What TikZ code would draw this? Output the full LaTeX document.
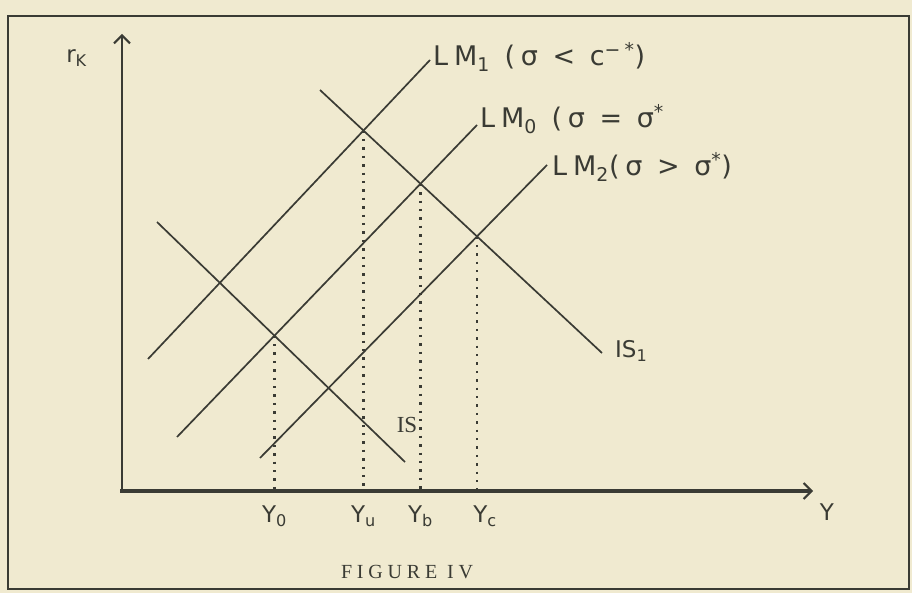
\documentclass[tikz,border=0pt]{standalone}
\usepackage{fontspec}
\usepackage{xcolor}
\usetikzlibrary{arrows.meta,positioning,intersections}
\newfontfamily\handfont{DejaVu Sans}
\newfontfamily\handwide{DejaVu Sans}[LetterSpace=22]
\newfontfamily\typefont{Liberation Serif}
\newfontfamily\capfont{Liberation Serif}[LetterSpace=24]
\definecolor{paper}{HTML}{F0EAD0}
\definecolor{ink}{HTML}{3A3B34}
\tikzset{%
  % lines
  mline/.style={draw=ink, line width=1.7pt},
  axisline/.style={draw=ink, -{Straight Barb[length=8pt, width=16pt, line width=2pt]}},
  guide/.style={draw=ink, line width=2.4pt, dash pattern=on 2.4pt off 6pt},
  frame/.style={draw=ink, line width=1.2pt},
  % labels
  hand/.style={font=\handfont\fontsize{23}{26}\selectfont, text=ink, inner sep=1pt},
  wide/.style={hand, font=\handwide\fontsize{27}{29}\selectfont},
  typed/.style={font=\typefont\fontsize{23}{25}\selectfont, text=ink, inner sep=1pt},
}

\begin{document}
\begin{tikzpicture}[x=1pt, y=-1pt]
  \path[fill=paper] (0,0) rectangle (912,593);
  \draw[frame] (8,16) rectangle (909,589);

  % axes
  \coordinate (org) at (122,491);
  \coordinate (ytop) at (122,34);
  \coordinate (xend) at (813,491);
  \draw[axisline, line width=2.8pt] (org) -- (ytop);
  \draw[axisline, line width=4.4pt] ([xshift=-2pt]org) -- (xend);
  \node[hand, left=34pt of ytop, yshift=-24pt] (rk) {r\textsubscript{K}};
  \node[hand, below=12pt of xend, xshift=14pt] (ylab) {Y};

  % IS and LM curves
  \coordinate (is_hi) at (157,222);   \coordinate (is_lo) at (405,462);
  \coordinate (isa_hi) at (320,90);   \coordinate (isa_lo) at (602,353);
  \coordinate (lma_lo) at (148,359);  \coordinate (lma_hi) at (430,60);
  \coordinate (lmo_lo) at (177,437);  \coordinate (lmo_hi) at (477,125);
  \coordinate (lmb_lo) at (260,458);  \coordinate (lmb_hi) at (547,165);
  \draw[mline, name path=is] (is_hi) -- (is_lo);
  \draw[mline, name path=isa] (isa_hi) -- (isa_lo);
  \draw[mline, name path=lma] (lma_lo) -- (lma_hi);
  \draw[mline, name path=lmo] (lmo_lo) -- (lmo_hi);
  \draw[mline, name path=lmb] (lmb_lo) -- (lmb_hi);

  \node[wide, right=2pt of lma_hi, anchor=west, yshift=3pt] (lab_lma) {LM\textsubscript{1} (σ < c\textsuperscript{−*})};
  \node[wide, right=2pt of lmo_hi, anchor=west, yshift=6pt] (lab_lmo) {LM\textsubscript{0} (σ = σ\textsuperscript{*}};
  \node[wide, right=4pt of lmb_hi, anchor=west, yshift=-2pt] (lab_lmb) {LM\textsubscript{2}(σ > σ\textsuperscript{*})};
  \node[typed, above=28pt of is_lo, xshift=2pt] (lab_is) {IS};
  \node[hand, right=12pt of isa_lo, yshift=2pt] (lab_isa) {IS\textsubscript{1}};

  % equilibria and dotted drop lines
  \path[name intersections={of=is and lmo, by=e0}];
  \path[name intersections={of=isa and lma, by=ea}];
  \path[name intersections={of=isa and lmo, by=eb}];
  \path[name intersections={of=isa and lmb, by=ec}];
  \foreach \e in {0,a,b,c}{
    \coordinate (f\e) at (e\e |- org);
    \draw[guide] (e\e) -- (f\e);
  }
  \node[hand, below=14pt of f0] (y0) {Y\textsubscript{0}};
  \node[hand, below=14pt of fa] (ya) {Y\textsubscript{u}};
  \node[hand, below=14pt of fb] (yb) {Y\textsubscript{b}};
  \node[hand, below=14pt of fc, xshift=8pt] (yc) {Y\textsubscript{c}};

  \node[text=ink, inner sep=1pt, font=\capfont\fontsize{20}{22}\selectfont] (figcap) at (407,572) {FIGURE IV};
\end{tikzpicture}
\end{document}
